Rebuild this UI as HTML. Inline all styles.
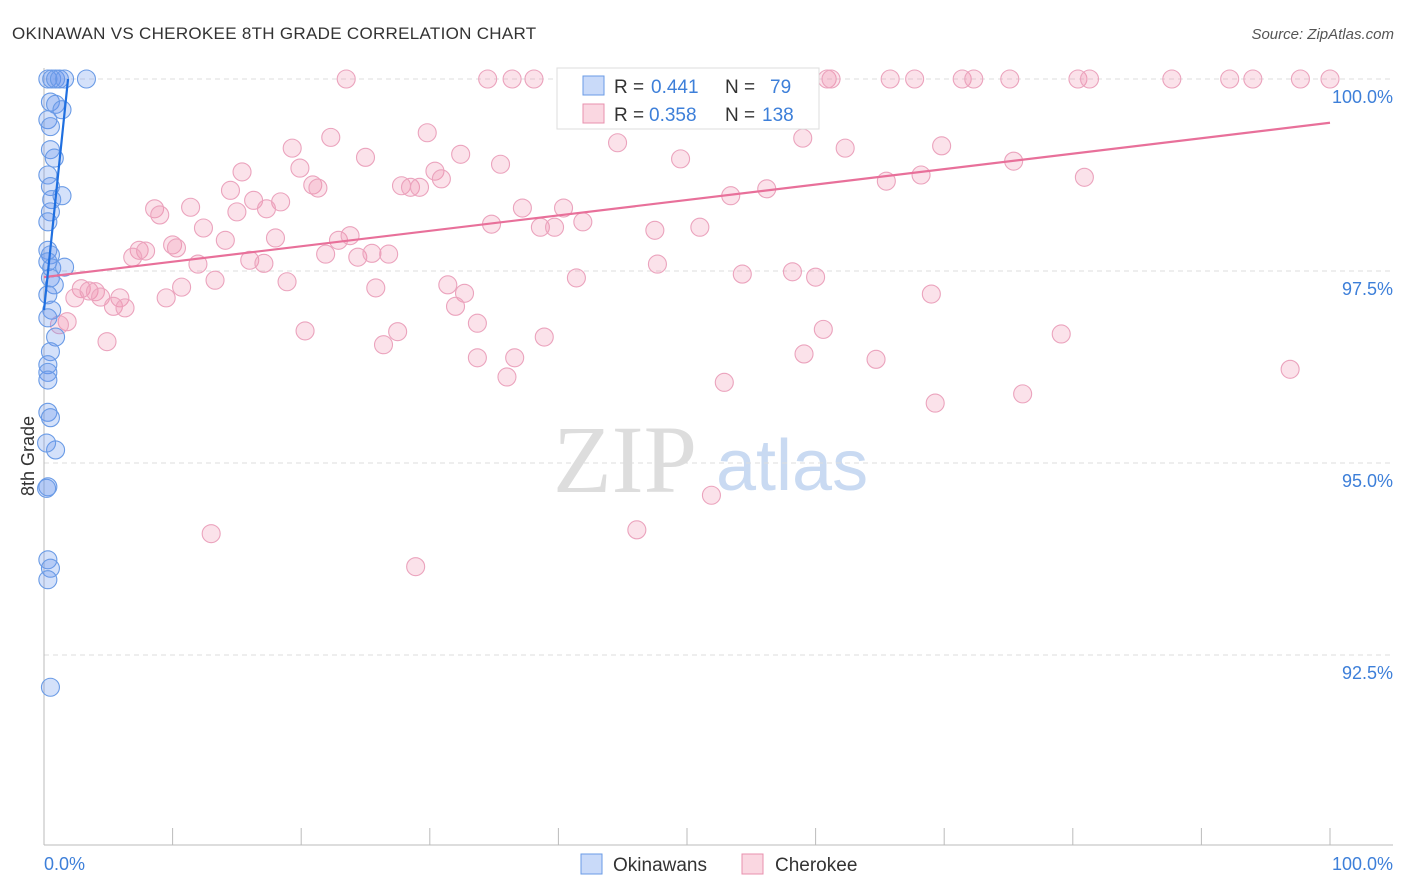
<!DOCTYPE html>
<html><head><meta charset="utf-8"><style>
body{margin:0;background:#fff;font-family:"Liberation Sans",sans-serif}
svg{display:block}
</style></head><body>
<svg width="1406" height="892" xmlns="http://www.w3.org/2000/svg">
<text x="12" y="39" font-size="17" fill="#333" letter-spacing="0.3">OKINAWAN VS CHEROKEE 8TH GRADE CORRELATION CHART</text>
<text x="1394" y="39" font-size="15" fill="#555" font-style="italic" text-anchor="end">Source: ZipAtlas.com</text>
<g>
<text x="553" y="492" font-size="96" fill="#ddd" font-family="Liberation Serif,serif">ZIP</text>
<text x="716" y="490" font-size="72" fill="#c9daf2">atlas</text>
</g>
<g id="grid"></g>
<g id="axes"></g>
<g id="pts"></g>
<g id="lines"></g>
<text transform="translate(34,456) rotate(-90)" font-size="18" fill="#333" text-anchor="middle">8th Grade</text>
<g>
<rect x="557" y="68" width="262" height="61" fill="#fff" stroke="#ddd"/>
<rect x="583" y="76" width="21" height="19" fill="rgba(100,149,237,0.35)" stroke="#6a9be6"/>
<text x="614" y="93" font-size="19" fill="#333">R =</text>
<text x="651" y="93" font-size="19" fill="#3d7fd9">0.441</text>
<text x="725" y="93" font-size="19" fill="#333">N =</text>
<text x="770" y="93" font-size="19" fill="#3d7fd9">79</text>
<rect x="583" y="104" width="21" height="19" fill="rgba(240,140,170,0.35)" stroke="#e890ae"/>
<text x="614" y="121" font-size="19" fill="#333">R =</text>
<text x="649" y="121" font-size="19" fill="#3d7fd9">0.358</text>
<text x="725" y="121" font-size="19" fill="#333">N =</text>
<text x="762" y="121" font-size="19" fill="#3d7fd9">138</text>
</g>
<g>
<rect x="581" y="854" width="21" height="20" fill="rgba(100,149,237,0.35)" stroke="#6a9be6"/>
<text x="613" y="871" font-size="19" fill="#333">Okinawans</text>
<rect x="742" y="854" width="21" height="20" fill="rgba(240,140,170,0.35)" stroke="#e890ae"/>
<text x="775" y="871" font-size="19" fill="#333">Cherokee</text>
</g>
</svg>
<script>
const yTicks=[100,97.5,95,92.5];
const yTickLabels=["100.0%","97.5%","95.0%","92.5%"];
const xTickLabels=["0.0%","100.0%"];
const blueX=[0.3,0.6,0.9,1.2,1.6,3.3,0.5,0.9,1.4,0.3,0.5,0.5,0.8,0.3,0.5,1.4,0.6,0.5,0.3,0.3,0.5,0.3,0.6,1.6,0.5,0.8,0.3,0.6,0.3,0.9,0.5,0.3,0.3,0.3,0.3,0.5,0.9,0.2,0.3,0.2,0.3,0.5,0.3,0.5];
const blueY=[100,100,100,100,100,100,99.7,99.67,99.6,99.47,99.38,99.08,98.97,98.75,98.6,98.48,98.43,98.27,98.14,97.77,97.71,97.62,97.54,97.55,97.41,97.32,97.19,96.99,96.89,96.64,96.45,96.28,96.18,96.08,95.66,95.59,95.17,95.26,94.69,94.67,93.74,93.63,93.48,92.08];
const pinkX=[23.5,34.5,36.4,38.1,46.7,51.0,53.7,55.4,57.2,60.9,61.2,65.8,67.7,71.4,72.3,75.1,80.4,81.3,87.7,92.2,94.0,97.7,100,
22.3,19.3,29.8,44.6,59.0,32.4,25.0,35.5,49.5,62.3,69.8,75.4,15.4,19.9,30.4,30.9,20.9,21.3,27.8,28.5,29.2,14.5,16.3,18.4,11.4,8.6,9.0,15.0,17.3,37.2,40.4,53.4,56.2,65.5,68.2,80.9,34.8,38.6,39.7,41.9,47.5,51.0,12.4,14.1,18.0,22.9,23.8,10.0,10.3,7.4,7.9,6.9,11.97,16.0,17.1,21.9,24.4,25.5,26.8,47.7,41.4,54.3,58.2,60.0,13.3,18.9,10.7,2.9,3.5,4.0,4.4,5.9,9.5,2.4,25.8,31.4,32.7,69.0,5.4,6.3,32.0,33.7,1.8,1.2,20.3,27.5,60.6,79.1,38.9,26.4,4.9,33.7,36.6,59.1,64.7,96.9,36.0,52.9,76.1,69.3,51.9,13.0,46.1,28.9];
const pinkY=[100,100,100,100,100,100,100,100,100,100,100,100,100,100,100,100,100,100,100,100,100,100,100,
99.24,99.10,99.30,99.17,99.23,99.02,98.98,98.89,98.96,99.10,99.13,98.93,98.79,98.84,98.80,98.70,98.62,98.58,98.61,98.59,98.59,98.55,98.42,98.40,98.33,98.31,98.23,98.27,98.31,98.32,98.32,98.48,98.57,98.67,98.75,98.72,98.11,98.07,98.07,98.14,98.03,98.07,98.06,97.90,97.93,97.90,97.96,97.84,97.80,97.77,97.76,97.68,97.59,97.64,97.60,97.72,97.68,97.73,97.72,97.59,97.41,97.46,97.49,97.42,97.38,97.36,97.29,97.27,97.24,97.23,97.16,97.15,97.15,97.15,97.28,97.32,97.21,97.20,97.04,97.02,97.04,96.82,96.84,96.80,96.72,96.71,96.74,96.68,96.64,96.54,96.58,96.37,96.37,96.42,96.35,96.22,96.12,96.05,95.90,95.78,94.58,94.08,94.13,93.65];
const blueLine=[[0,96.99],[1.87,100]];
const pinkLine=[[0,97.42],[100,99.43]];
const NS="http://www.w3.org/2000/svg";
const sx=v=>44+v*12.86, sy=v=>79+(100-v)*76.8;
function mk(t,a,p){const e=document.createElementNS(NS,t);for(const k in a)e.setAttribute(k,a[k]);p.appendChild(e);return e;}
const grid=document.getElementById('grid'),axes=document.getElementById('axes'),pts=document.getElementById('pts'),lines=document.getElementById('lines');
yTicks.forEach((v,i)=>{
 const l=mk('line',{x1:44,x2:1393,y1:sy(v),y2:sy(v),stroke:'#ddd','stroke-dasharray':'5,4'},grid);
 
 
 const t=mk('text',{x:1393,y:sy(v)+24,'font-size':18,fill:'#3d7fd9','text-anchor':'end'},axes);
 t.textContent=yTickLabels[i];
 
 
});
let a=mk('line',{x1:44,x2:44,y1:68,y2:845,stroke:'#bbb'},axes);


a=mk('line',{x1:44,x2:1393,y1:845,y2:845,stroke:'#bbb'},axes);


for(let i=0;i<=10;i++){const tk=mk('line',{x1:sx(i*10),x2:sx(i*10),y1:828,y2:845,stroke:'#bbb'},axes);
 
 }
[[0,'start',44],[100,'end',1393]].forEach((d,i)=>{const t=mk('text',{x:d[2],y:870,'font-size':18,fill:'#3d7fd9','text-anchor':d[1]},axes);t.textContent=xTickLabels[i];
 
 });
pinkX.forEach((x,i)=>{const c=mk('circle',{cx:sx(x),cy:sy(pinkY[i]),r:(x===0?18:9),fill:'rgba(240,140,170,0.25)',stroke:'#eba3bd','stroke-width':1.1},pts);
 
 });
blueX.forEach((x,i)=>{const c=mk('circle',{cx:sx(x),cy:sy(blueY[i]),r:9,fill:'rgba(100,149,237,0.28)',stroke:'#6a9be6','stroke-width':1.1},pts);
 
 });
let ln=mk('line',{x1:sx(pinkLine[0][0]),y1:sy(pinkLine[0][1]),x2:sx(pinkLine[1][0]),y2:sy(pinkLine[1][1]),stroke:'#e8709a','stroke-width':2.2},lines);


ln=mk('line',{x1:sx(blueLine[0][0]),y1:sy(blueLine[0][1]),x2:sx(blueLine[1][0]),y2:sy(blueLine[1][1]),stroke:'#1f6fe0','stroke-width':2.2},lines);


</script>
</body></html>
